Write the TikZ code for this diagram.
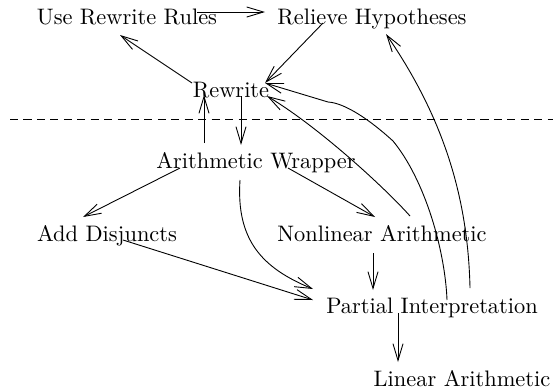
\documentclass[tikz,border=0pt]{standalone}
\usetikzlibrary{arrows.meta}

\begin{document}
\begin{tikzpicture}[->,>={Straight Barb[length=7.5pt,width=4.5pt]}, x=0.4464pt, y=-0.4464pt]
    \tikzstyle{module}=[inner sep=0pt, anchor=base]
    \tikzstyle{separator}=[-, dash pattern=on 3.6pt off 2.4pt]

    \useasboundingbox (0,0) rectangle (553,391);

    % Draw the modules, one row of the grid after the other
    \node[module] (URR) at (127,24) {Use Rewrite Rules};
    \node[module] (RH) at (372,24) {Relieve Hypotheses};
    \node[module] (RW) at (231,97) {Rewrite};
    \node[module] (AW) at (256,168) {Arithmetic Wrapper};
    \node[module] (AD) at (107,241) {Add Disjuncts};
    \node[module] (NA) at (382,241) {Nonlinear Arithmetic};
    \node[module] (PI) at (432,313) {Partial Interpretation};
    \node[module] (LA) at (462,386) {Linear Arithmetic};

    % The line between rewriting and arithmetic
    \draw[separator] (10,119) -- (553,119);

    % Straight connections
    \path ([shift={(70,-12)}]URR.base) edge ([shift={(-107,-12)}]RH.base);
    \path ([shift={(-49,-1)}]RH.base) edge ([shift={(34,-14)}]RW.base);
    \path ([shift={(-39,-14)}]RW.base) edge ([shift={(-7,11)}]URR.base);
    \path ([shift={(-52,-25)}]AW.base) edge ([shift={(-27,-2)}]RW.base);
    \path ([shift={(10,-1)}]RW.base) edge ([shift={(-15,-23)}]AW.base);
    \path ([shift={(-76,0)}]AW.base) edge ([shift={(-24,-24)}]AD.base);
    \path ([shift={(32,0)}]AW.base) edge ([shift={(-7,-24)}]NA.base);
    \path ([shift={(16,-1)}]AD.base) edge ([shift={(-119,-13)}]PI.base);
    \path ([shift={(-9,12)}]NA.base) edge ([shift={(-59,-23)}]PI.base);
    \path ([shift={(-34,0)}]PI.base) edge ([shift={(-64,-24)}]LA.base);

    % Curved connections back up to the top
    \draw ([shift={(-16,12)}]AW.base) .. controls (236,240) and (262,268) .. ([shift={(-119,-24)}]PI.base);
    \draw ([shift={(28,-25)}]NA.base) .. controls (385,188) and (320,128) .. ([shift={(36,-1)}]RW.base);
    \draw ([shift={(15,-13)}]PI.base) .. controls (445,250) and (425,180) .. (393,141)
        .. controls (370,120) and (345,103) .. (328,102) -- ([shift={(34,-14)}]RW.base);
    \draw ([shift={(38,-25)}]PI.base) .. controls (468,200) and (445,120) .. ([shift={(14,10)}]RH.base);
\end{tikzpicture}
\end{document}
